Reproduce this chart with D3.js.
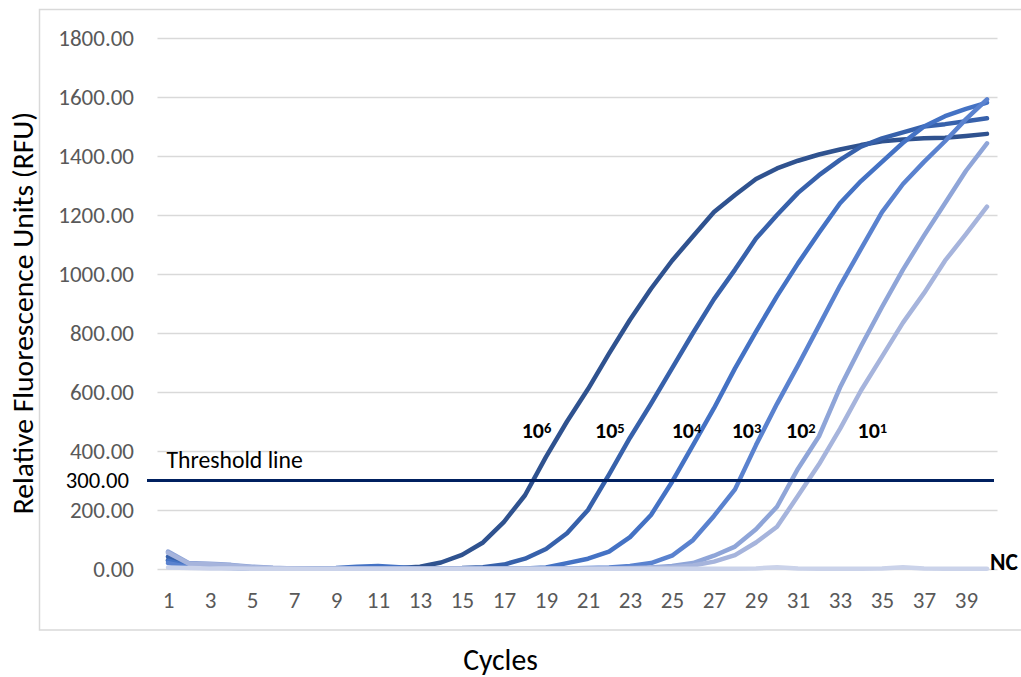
<!DOCTYPE html>
<html><head><meta charset="utf-8">
<script src="https://cdn.jsdelivr.net/npm/d3@7"></script>
<style>
html,body{margin:0;padding:0;background:#fff;}
svg{display:block;font-family:Carlito,Lato,"Open Sans",sans-serif;}
</style></head><body>
<svg id="chart" width="1021" height="677"></svg>
<script>
// ---- data ----
const cycles = [1,2,3,4,5,6,7,8,9,10,11,12,13,14,15,16,17,18,19,20,21,22,23,24,25,26,27,28,29,30,31,32,33,34,35,36,37,38,39,40];
const xTickLabels = [1,3,5,7,9,11,13,15,17,19,21,23,25,27,29,31,33,35,37,39];
const yTicks = [0,200,400,600,800,1000,1200,1400,1600,1800];
const thresholdValue = 300;
const seriesNames = ["10^6","10^5","10^4","10^3","10^2","10^1","NC"];
const labelExponents = ["6","5","4","3","2","1"];

const s1e6 = [30,12,10,6,2,1,1,1,2,3,4,3,8,22,48,90,160,250,380,500,610,730,845,950,1045,1128,1210,1268,1322,1358,1384,1405,1422,1437,1450,1456,1460,1462,1468,1475];
const s1e5 = [42,10,8,5,2,1,1,1,1,2,3,2,1,2,3,6,15,35,68,121,200,320,445,560,680,800,915,1015,1120,1200,1275,1335,1387,1432,1460,1480,1500,1508,1518,1528];
const s1e4 = [28,8,6,4,2,1,1,1,3,8,10,6,2,1,1,1,1,2,5,20,35,59,108,183,295,420,545,680,805,925,1036,1140,1240,1315,1380,1445,1500,1535,1560,1581];
const s1e3 = [20,6,5,3,2,1,1,1,1,1,1,1,1,1,1,1,1,1,1,2,3,5,10,20,45,98,180,270,420,560,690,825,960,1085,1210,1305,1380,1450,1525,1592];
const s1e2 = [59,20,18,14,8,4,2,1,1,1,1,1,1,1,1,1,1,1,1,1,1,2,3,5,10,20,45,76,135,211,340,450,615,755,888,1015,1130,1240,1350,1443];
const s1e1 = [55,18,16,12,6,3,2,1,1,1,1,1,1,1,1,1,1,1,1,1,1,1,2,4,6,12,25,47,90,143,248,355,475,605,720,835,935,1045,1135,1228];
const sNC  = [5,3,2,2,1,1,1,1,1,1,1,1,1,1,1,1,1,1,1,1,1,1,1,1,1,1,1,1,2,6,2,1,1,1,2,6,2,1,1,1];

const seriesValues = [s1e6, s1e5, s1e4, s1e3, s1e2, s1e1, sNC];
const seriesColors = ["#2f528f","#3761ab","#4472c4","#5a82cf","#8fa5d8","#a6b4dc","#cbd3ea"];

// ---- layout ----
const svg = d3.select("#chart");
const plotLeft = 157.5, plotRight = 997.5, plotTop = 38, plotBottom = 569;

const x = d3.scaleLinear().domain([0.5, 40.5]).range([plotLeft, plotRight]);
const y = d3.scaleLinear().domain([0, 1800]).range([plotBottom, plotTop]);

svg.append("rect").attr("width",1021).attr("height",677).attr("fill","#fff");

// outer chart border
svg.append("rect")
  .attr("x", 39.5).attr("y", 9.5).attr("width", 1000).attr("height", 620.5)
  .attr("fill","none").attr("stroke","#d9d9d9").attr("stroke-width",1.5);

// y axis with gridlines
const yAxis = d3.axisLeft(y).tickValues(yTicks).tickFormat(d3.format(".2f"))
  .tickSize(-(plotRight - plotLeft)).tickPadding(23.5);
const gy = svg.append("g").attr("transform", `translate(${plotLeft},0)`).call(yAxis);
gy.select(".domain").remove();
gy.selectAll(".tick line").attr("stroke","#d9d9d9").attr("stroke-width",1.5);
gy.selectAll(".tick text").attr("fill","#595959").attr("font-size","23px")
  .attr("font-family","Carlito,Lato,sans-serif").attr("dy","0.32em");

// x axis labels
const xAxis = d3.axisBottom(x).tickValues(xTickLabels).tickSize(0).tickFormat(d3.format("d"));
const gx = svg.append("g").attr("transform", `translate(0,${plotBottom})`).call(xAxis);
gx.select(".domain").remove();
gx.selectAll(".tick text").attr("fill","#595959").attr("font-size","23px")
  .attr("font-family","Carlito,Lato,sans-serif").attr("dy","0").attr("y",38.5);

// series lines
const line = d3.line().x((d,i) => x(cycles[i])).y(d => y(d)).curve(d3.curveLinear);
svg.append("g").selectAll("path").data(seriesValues).join("path")
  .attr("d", d => line(d))
  .attr("fill","none")
  .attr("stroke", (d,i) => seriesColors[i])
  .attr("stroke-width", 4.5)
  .attr("stroke-linejoin","round")
  .attr("stroke-linecap","round");

// threshold line
svg.append("line")
  .attr("x1", 147).attr("x2", 994)
  .attr("y1", y(thresholdValue)).attr("y2", y(thresholdValue))
  .attr("stroke","#002060").attr("stroke-width",3);

svg.append("text").attr("x",129).attr("y", y(thresholdValue)).attr("dy","0.32em")
  .attr("text-anchor","end").attr("font-size","22.7px").attr("fill","#000")
  .text(d3.format(".2f")(thresholdValue));

svg.append("text").attr("x",166.5).attr("y",468.3)
  .attr("font-size","23.7px").attr("fill","#000").text("Threshold line");

// concentration labels
const labelX = [521.7, 595, 671.7, 731.7, 786, 857.5];
labelExponents.forEach((e,i) => {
  const t = svg.append("text").attr("x", labelX[i]).attr("y", 438.3)
    .attr("font-weight","bold").attr("font-size","22px").attr("fill","#000");
  t.append("tspan").text("10");
  t.append("tspan").attr("dy","-5.3").attr("font-size","14.5px").text(e);
});

svg.append("text").attr("x", 990).attr("y", 570)
  .attr("font-weight","bold").attr("font-size","23.5px").attr("fill","#000").text(seriesNames[6]);

// axis titles
svg.append("text").attr("transform","translate(33,313) rotate(-90)")
  .attr("text-anchor","middle").attr("font-size","29.6px").attr("fill","#000")
  .text("Relative Fluorescence Units (RFU)");
svg.append("text").attr("x",500.5).attr("y",669.5)
  .attr("text-anchor","middle").attr("font-size","29.7px").attr("fill","#000")
  .text("Cycles");
</script>
</body></html>
